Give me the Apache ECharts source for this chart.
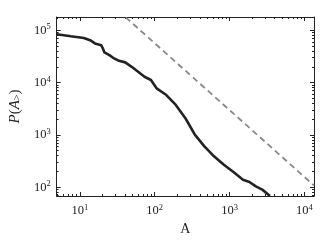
<!DOCTYPE html>
<html><head><meta charset="utf-8">
<script src="https://cdn.jsdelivr.net/npm/echarts@6/dist/echarts.min.js"></script>
<style>html,body{margin:0;padding:0;background:#fff}#c{width:321px;height:241px}</style>
</head><body><div id="c"></div>
<script>
// empirical distribution P(A_>) vs A
const areaX = [4.9, 7.6, 11.3, 13.7, 15.9, 19.3, 20.3, 21.3, 24.8, 28.7, 33.3, 40.4, 49.2, 60, 73, 89, 106, 143, 191, 257, 345, 464, 624, 838, 1126, 1510, 1840, 2240, 2730, 3310, 3450];
const probY = [83900, 76900, 71300, 64500, 55900, 51800, 44800, 37600, 33400, 28900, 26000, 24300, 20000, 16100, 12900, 11200, 7760, 5780, 3730, 2080, 1000, 598, 386, 268, 195, 139, 126, 104, 90, 72, 68];
// reference power-law guide (dashed)
const refX = [41, 13400];
const refY = [176000, 108];
// tick labels
const xMajor = [10, 100, 1000, 10000];
const yMajor = [100, 1000, 10000, 100000];
const xRange = [4.9, 13400];
const yRange = [68, 179000];

function minors(majors, lo, hi) {
  const out = [];
  const bases = [majors[0] / 10].concat(majors);
  bases.forEach(b => { for (let m = 2; m <= 9; m++) { const v = m * b; if (v > lo && v < hi) out.push(v); } });
  return out;
}
const FONT = 'Liberation Serif';
const INK = '#222';
const rich = {
  b: { fontFamily: FONT, fontSize: 12.5, color: INK },
  e: { fontFamily: FONT, fontSize: 8.5, color: INK, padding: [0, 0, 6, 0] }
};
function sup(v) { return '{b|10}{e|' + Math.round(Math.log10(v)) + '}'; }

function mkAxis(dim, pos, major, labels) {
  const rng = dim === 'x' ? xRange : yRange;
  const maj = dim === 'x' ? xMajor : yMajor;
  const vals = major ? maj : minors(maj, rng[0], rng[1]);
  const a = {
    type: 'log', logBase: 10, position: pos, min: rng[0], max: rng[1],
    gridIndex: 0,
    axisLine: { show: major, onZero: false, lineStyle: { color: INK, width: 1 } },
    axisTick: { show: true, inside: true, length: major ? 4 : 2, customValues: vals, lineStyle: { color: INK, width: 1 } },
    axisLabel: { show: labels, customValues: maj, formatter: sup, rich: rich, margin: dim === 'x' ? 7 : 6 },
    splitLine: { show: false },
    minorTick: { show: false }
  };
  if (labels && dim === 'x') {
    a.name = 'A'; a.nameLocation = 'middle'; a.nameGap = 25;
    a.nameTextStyle = { fontFamily: FONT, fontSize: 14, color: INK };
  }
  if (labels && dim === 'y') {
    a.name = '{i|P}{n|(}{i|A}{s|>}{n|)}'; a.nameLocation = 'middle'; a.nameGap = 28; a.nameRotate = 90;
    a.nameTextStyle = { rich: {
      i: { fontFamily: FONT, fontStyle: 'italic', fontSize: 15, color: INK, padding: [0, 0, 3, 0] },
      n: { fontFamily: FONT, fontSize: 15, color: INK, padding: [0, 0, 3, 0] },
      s: { fontFamily: FONT, fontSize: 10, color: INK }
    } };
  }
  return a;
}

const chart = echarts.init(document.getElementById('c'), null, { renderer: 'canvas' });
chart.setOption({
  animation: false,
  backgroundColor: '#fff',
  grid: { left: 46, right: 7, top: 17, bottom: 45, containLabel: false },
  xAxis: [mkAxis('x', 'bottom', true, true), mkAxis('x', 'bottom', false, false), mkAxis('x', 'top', true, false), mkAxis('x', 'top', false, false)],
  yAxis: [mkAxis('y', 'left', true, true), mkAxis('y', 'left', false, false), mkAxis('y', 'right', true, false), mkAxis('y', 'right', false, false)],
  series: [
    { type: 'line', xAxisIndex: 0, yAxisIndex: 0, data: refX.map((x, i) => [x, refY[i]]), showSymbol: false, clip: true,
      lineStyle: { color: '#888', width: 1.8, type: [6, 4] } },
    { type: 'line', xAxisIndex: 0, yAxisIndex: 0, data: areaX.map((x, i) => [x, probY[i]]), showSymbol: false, clip: true,
      lineStyle: { color: '#222', width: 2.6 } }
  ]
});
</script></body></html>
